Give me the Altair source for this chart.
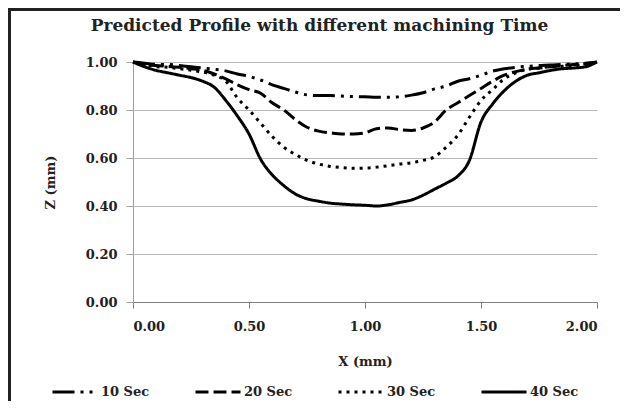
import altair as alt
import pandas as pd

X = [0.00, 0.05, 0.10, 0.15, 0.20, 0.25, 0.30, 0.35, 0.40, 0.45, 0.50, 0.55, 0.60, 0.65,
     0.70, 0.75, 0.80, 0.85, 0.90, 0.95, 1.00, 1.05, 1.10, 1.15, 1.20, 1.25, 1.30, 1.35,
     1.40, 1.45, 1.50, 1.55, 1.60, 1.65, 1.70, 1.75, 1.80, 1.85, 1.90, 1.95, 2.00]

Z10 = [1.000, 0.995, 0.990, 0.990, 0.985, 0.980, 0.975, 0.970, 0.963, 0.950, 0.940, 0.925, 0.905, 0.890,
       0.875, 0.863, 0.860, 0.860, 0.858, 0.856, 0.855, 0.853, 0.853, 0.855, 0.862, 0.872, 0.888, 0.900,
       0.920, 0.930, 0.945, 0.962, 0.972, 0.978, 0.982, 0.985, 0.987, 0.990, 0.992, 0.995, 1.000]

Z20 = [1.000, 0.990, 0.985, 0.982, 0.978, 0.972, 0.965, 0.950, 0.930, 0.905, 0.885, 0.870, 0.830, 0.800,
       0.760, 0.728, 0.712, 0.705, 0.700, 0.700, 0.705, 0.722, 0.725, 0.718, 0.715, 0.725, 0.750, 0.800,
       0.830, 0.860, 0.890, 0.920, 0.945, 0.960, 0.970, 0.975, 0.980, 0.985, 0.990, 0.993, 1.000]

Z30 = [1.000, 0.990, 0.980, 0.978, 0.972, 0.966, 0.958, 0.945, 0.920, 0.850, 0.800, 0.745, 0.690, 0.645,
       0.615, 0.590, 0.575, 0.565, 0.560, 0.557, 0.558, 0.562, 0.568, 0.575, 0.580, 0.590, 0.605, 0.645,
       0.695, 0.770, 0.840, 0.885, 0.930, 0.955, 0.970, 0.975, 0.980, 0.982, 0.985, 0.990, 1.000]

Z40 = [1.000, 0.980, 0.965, 0.955, 0.945, 0.935, 0.920, 0.895, 0.840, 0.775, 0.700, 0.595, 0.530, 0.485,
       0.450, 0.430, 0.420, 0.412, 0.408, 0.405, 0.403, 0.400, 0.405, 0.415, 0.425, 0.445, 0.470, 0.495,
       0.525, 0.590, 0.750, 0.825, 0.880, 0.920, 0.945, 0.955, 0.965, 0.972, 0.975, 0.980, 1.000]

SERIES = ["10 Sec", "20 Sec", "30 Sec", "40 Sec"]
DASHES = [[22, 6, 3, 6, 3, 6], [13, 5], [3, 5], [1, 0]]
Y_TICKS = [0.0, 0.2, 0.4, 0.6, 0.8, 1.0]
X_TICKS = [0.0, 0.5, 1.0, 1.5, 2.0]
TITLE = "Predicted Profile with different machining Time"

rows = []
for name, zs in zip(SERIES, [Z10, Z20, Z30, Z40]):
    for i, (x, z) in enumerate(zip(X, zs)):
        rows.append({"series": name, "x": x, "z": z, "order": i})
df = pd.DataFrame(rows)

FONT = "DejaVu Serif"

lines = alt.Chart(df).mark_line(
    color="black", strokeWidth=3, interpolate="monotone"
).encode(
    x=alt.X("x:Q", scale=alt.Scale(domain=[0, 2], nice=False),
            axis=alt.Axis(title="X (mm)", values=X_TICKS, format=".2f", grid=False,
                          tickSize=6, labelPadding=12, titlePadding=22,
                          domainColor="#808080", tickColor="#808080")),
    y=alt.Y("z:Q", scale=alt.Scale(domain=[0, 1], nice=False),
            axis=alt.Axis(title="Z (mm)", values=Y_TICKS, format=".2f", grid=True,
                          gridColor="#b8b8b8", tickSize=7, labelPadding=9, titlePadding=28,
                          domainColor="#a0a0a0", tickColor="#a0a0a0")),
    strokeDash=alt.StrokeDash("series:N",
                              scale=alt.Scale(domain=SERIES, range=DASHES),
                              legend=alt.Legend(title=None, orient="none", legendX=-82, legendY=306,
                                                direction="horizontal", columns=4,
                                                symbolType="stroke", symbolSize=2025,
                                                symbolStrokeWidth=2.8, symbolStrokeColor="black",
                                                labelFont=FONT, labelFontWeight="bold",
                                                labelFontSize=13, labelColor="#222",
                                                labelOffset=2, columnPadding=39, padding=0)),
    detail="series:N",
    order="order:Q",
)

frame_df = pd.DataFrame({"a": [0]})
left_border = alt.Chart(frame_df).mark_rule(color="#222", strokeWidth=3).encode(
    x=alt.value(-123.5), y=alt.value(-54), y2=alt.value(339))
top_border = alt.Chart(frame_df).mark_rule(color="#222", strokeWidth=3).encode(
    x=alt.value(-125), x2=alt.value(487), y=alt.value(-52.5))

title_df = pd.DataFrame({"t": [TITLE]})
title = alt.Chart(title_df).mark_text(
    font=FONT, fontSize=17, fontWeight="bold", color="#222",
    align="center", baseline="middle"
).encode(text="t:N", x=alt.value(186.5), y=alt.value(-36))

chart = alt.layer(lines, left_border, top_border, title).properties(
    width=464, height=240,
    autosize=alt.AutoSizeParams(type="none"),
    padding={"left": 125, "top": 54, "right": 23, "bottom": 99},
).configure_view(stroke=None).configure_axis(
    labelFont=FONT, labelFontWeight="bold", labelFontSize=13, labelColor="#222",
    titleFont=FONT, titleFontWeight="bold", titleFontSize=13, titleColor="#222",
)

chart.save("out.html", embed_options={"renderer": "svg", "actions": False})
